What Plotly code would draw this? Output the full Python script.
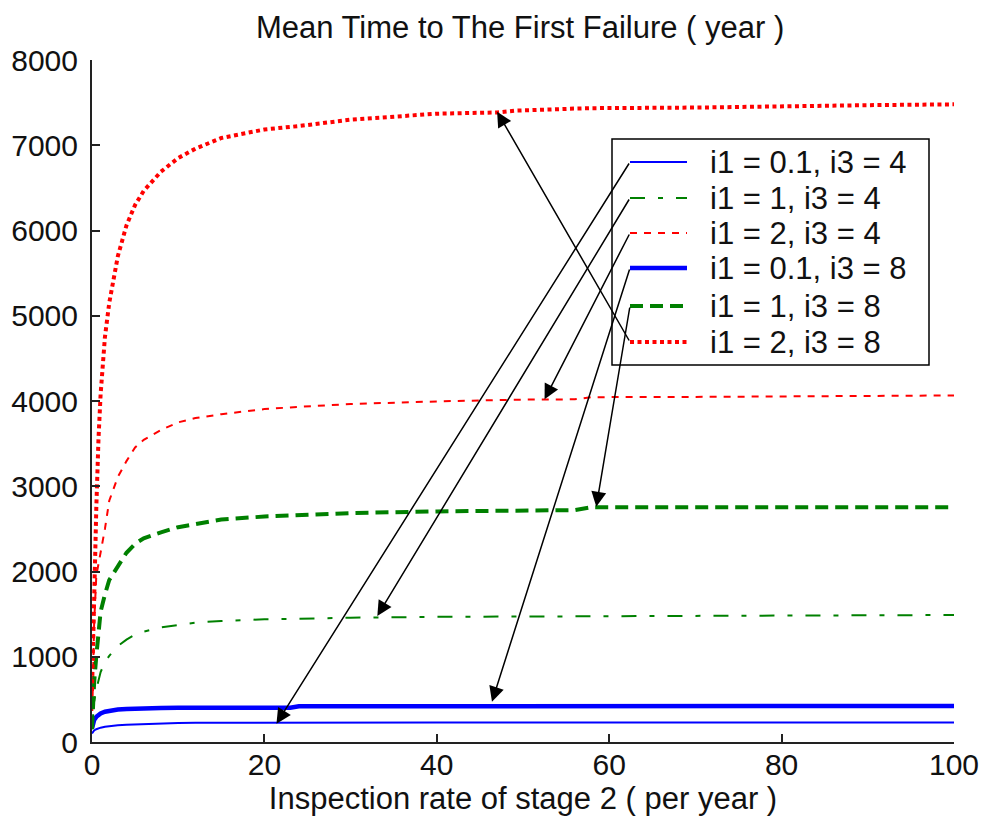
import plotly.graph_objects as go

# Inspection rate of stage 2 (per year)
rate = [0, 0.1, 0.25, 0.5, 0.75, 1, 1.5, 2, 3, 4, 5, 6, 8, 10, 12, 15,
        20, 23, 24, 30, 40, 47, 49, 56, 58, 70, 80, 90, 100]

# Mean time to the first failure (year) for each parameter pair
mttf_i1_01_i3_4 = [100, 120, 135, 150, 160, 168, 180, 188, 197, 203, 207, 210, 212, 224, 226,
                   227, 227, 227, 227, 228, 228, 228, 228, 228, 228, 229, 229, 229, 229]
mttf_i1_1_i3_4 = [150, 320, 470, 620, 730, 820, 940, 1010, 1125, 1200, 1260, 1295, 1345, 1375,
                  1400, 1420, 1440, 1443, 1445, 1458, 1468, 1472, 1474, 1477, 1478, 1480, 1483,
                  1486, 1490]
mttf_i1_2_i3_4 = [200, 700, 1400, 1950, 2080, 2230, 2500, 2830, 3110, 3295, 3455, 3545, 3660,
                  3750, 3800, 3845, 3905, 3925, 3930, 3965, 3995, 4012, 4015, 4020, 4045, 4048,
                  4052, 4058, 4065]
mttf_i1_01_i3_8 = [160, 210, 260, 295, 320, 335, 355, 365, 380, 388, 393, 397, 400, 402, 402,
                   403, 403, 403, 420, 420, 421, 421, 421, 421, 421, 422, 422, 422, 422]
mttf_i1_1_i3_8 = [150, 520, 700, 1010, 1300, 1530, 1730, 1900, 2060, 2220, 2325, 2390, 2460,
                  2520, 2555, 2610, 2645, 2655, 2660, 2685, 2705, 2712, 2715, 2720, 2755, 2755,
                  2755, 2755, 2755]
mttf_i1_2_i3_8 = [600, 1150, 1550, 2750, 3550, 4080, 4750, 5150, 5700, 6060, 6300, 6465, 6690,
                  6850, 6960, 7085, 7185, 7215, 7225, 7300, 7370, 7385, 7405, 7430, 7435, 7442,
                  7460, 7470, 7480]

series_names = ["i1 = 0.1, i3 = 4", "i1 = 1, i3 = 4", "i1 = 2, i3 = 4",
                "i1 = 0.1, i3 = 8", "i1 = 1, i3 = 8", "i1 = 2, i3 = 8"]
series_values = [mttf_i1_01_i3_4, mttf_i1_1_i3_4, mttf_i1_2_i3_4,
                 mttf_i1_01_i3_8, mttf_i1_1_i3_8, mttf_i1_2_i3_8]

# Arrow tips (points on the curves) for each legend entry
arrow_tip_x = [21.4, 33.1, 52.5, 46.4, 58.5, 47.0]
arrow_tip_y = [215, 1478, 4020, 473, 2760, 7394]

styles = [
    dict(color="#0000FF", width=2, dash="solid"),
    dict(color="#008000", width=2, dash="15px,13px,5px,13px"),
    dict(color="#FF0000", width=2, dash="7px,7px"),
    dict(color="#0000FF", width=4.5, dash="solid"),
    dict(color="#008000", width=4, dash="13px,7px"),
    dict(color="#FF0000", width=4, dash="4px,3.5px"),
]

FONT = "Liberation Sans, Arial, sans-serif"
W, H = 987, 827
ML, MR, MT, MB = 92, 33, 60, 85
PW, PH = W - ML - MR, H - MT - MB
X_RANGE, Y_RANGE = [0, 100], [0, 8000]


def px_to_paper(px, py):
    return (px - ML) / PW, (H - MB - py) / PH


def px_to_data(px, py):
    fx, fy = px_to_paper(px, py)
    return (X_RANGE[0] + fx * (X_RANGE[1] - X_RANGE[0]),
            Y_RANGE[0] + fy * (Y_RANGE[1] - Y_RANGE[0]))


# Legend box layout (pixels)
LEG_LEFT, LEG_RIGHT, LEG_TOP, LEG_BOTTOM = 612, 929, 139, 365
SAMPLE_X0, SAMPLE_X1, TEXT_X = 630, 687, 708
ROW_Y = [162, 198, 233, 268, 306, 342]

fig = go.Figure()
for name, vals, st in zip(series_names, series_values, styles):
    fig.add_trace(go.Scatter(x=rate, y=vals, mode="lines", name=name, line=st,
                             showlegend=False))

shapes = []
annotations = []
bx0, by0 = px_to_paper(LEG_LEFT, LEG_BOTTOM)
bx1, by1 = px_to_paper(LEG_RIGHT, LEG_TOP)
shapes.append(dict(type="rect", xref="paper", yref="paper", x0=bx0, y0=by0, x1=bx1, y1=by1,
                   line=dict(color="black", width=1.5), fillcolor="white", layer="below"))
for name, st, ry in zip(series_names, styles, ROW_Y):
    sx0, sy = px_to_paper(SAMPLE_X0, ry)
    sx1, _ = px_to_paper(SAMPLE_X1, ry)
    shapes.append(dict(type="line", xref="paper", yref="paper", x0=sx0, x1=sx1, y0=sy, y1=sy,
                       line=dict(color=st["color"], width=st["width"], dash=st["dash"])))
    tx, _ = px_to_paper(TEXT_X, ry)
    annotations.append(dict(xref="paper", yref="paper", x=tx, y=sy, xanchor="left",
                            yanchor="middle", text=name, showarrow=False,
                            font=dict(family=FONT, size=31, color="#111111")))

# Arrows from the legend sample lines to their curves
for tx, ty, ry in zip(arrow_tip_x, arrow_tip_y, ROW_Y):
    ax, ay = px_to_data(SAMPLE_X0, ry)
    annotations.append(dict(x=tx, y=ty, ax=ax, ay=ay, xref="x", yref="y", axref="x",
                            ayref="y", text="", showarrow=True, arrowhead=2, arrowsize=2,
                            arrowwidth=1.5, arrowcolor="black", standoff=0))

axis_common = dict(showline=True, linecolor="#222222", linewidth=2, ticks="inside",
                   ticklen=8, tickwidth=2, tickcolor="#222222", showgrid=False,
                   zeroline=False, automargin=False,
                   tickfont=dict(family=FONT, size=30, color="#111111"))

fig.update_layout(
    width=W, height=H,
    margin=dict(l=ML, r=MR, t=MT, b=MB),
    paper_bgcolor="white", plot_bgcolor="white",
    font=dict(family=FONT, size=30, color="#111111"),
    title=dict(text="Mean Time to The First Failure ( year )", x=0.527, xanchor="center",
               y=1 - 27 / H, yanchor="middle", font=dict(family=FONT, size=31)),
    xaxis=dict(range=X_RANGE, tickvals=[0, 20, 40, 60, 80, 100], ticklabelstandoff=-5,
               title=dict(text="Inspection rate of stage 2 ( per year )", standoff=7,
                          font=dict(family=FONT, size=31)),
               **axis_common),
    yaxis=dict(range=Y_RANGE, tickvals=[0, 1000, 2000, 3000, 4000, 5000, 6000, 7000, 8000],
               ticklabelstandoff=6, **axis_common),
    shapes=shapes,
    annotations=annotations,
    showlegend=False,
)

fig.write_html("out.html")
